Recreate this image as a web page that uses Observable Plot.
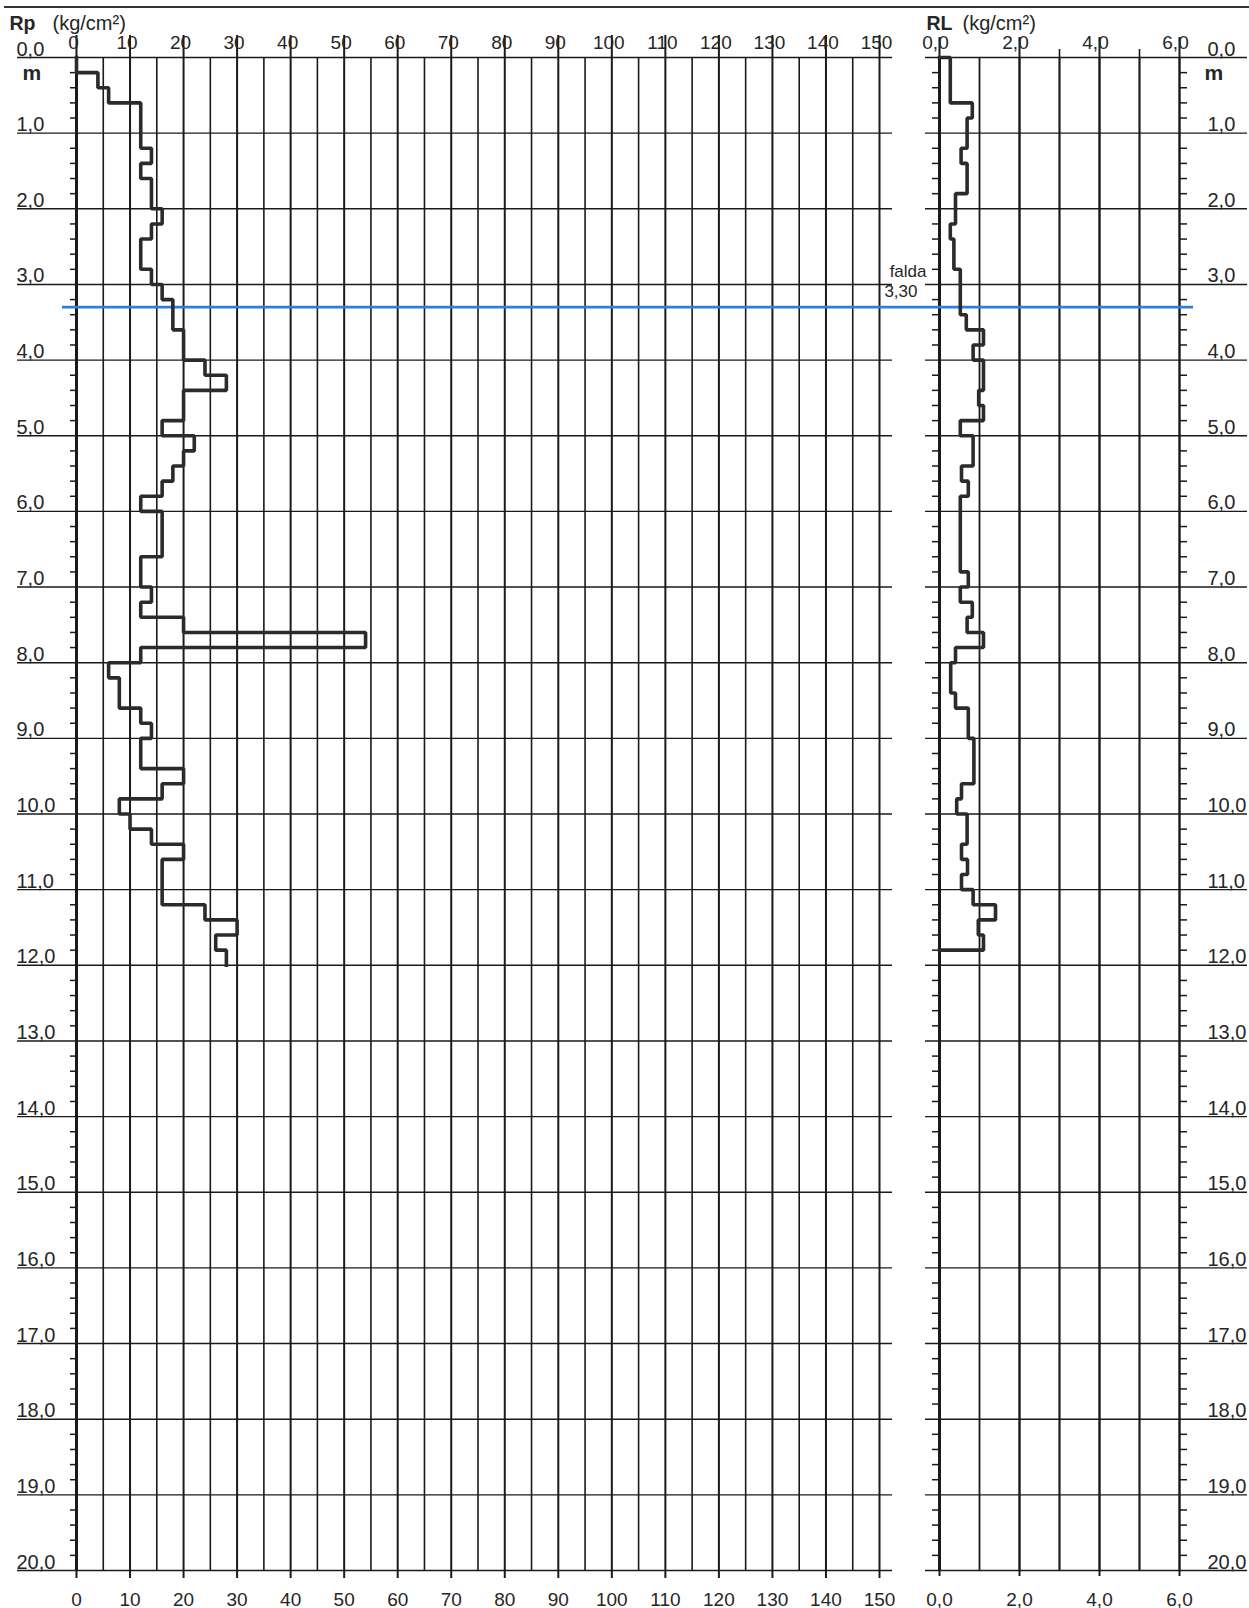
<!DOCTYPE html>
<html>
<head>
<meta charset="utf-8">
<script src="https://cdn.jsdelivr.net/npm/d3@7"></script>
<script src="https://cdn.jsdelivr.net/npm/@observablehq/plot@0.6"></script>
<style>
  html, body { margin: 0; padding: 0; background: #fff; }
  #wrap { position: relative; width: 1249px; height: 1608px; overflow: hidden; font-family: "Liberation Sans", Arial, sans-serif; }
  .panel { position: absolute; top: 0; }
  .panel svg { overflow: visible !important; background: transparent !important; }
  #topline { position: absolute; top: 6px; left: 4px; right: 0; height: 0; border-top: 2px solid #333; }
</style>
</head>
<body>
<div id="wrap">
  <div id="topline"></div>
  <div class="panel" id="left" style="left:0px"></div>
  <div class="panel" id="right" style="left:905px"></div>
</div>
<script>
// ---- data ----
// depth (m) of the top of each 0.2 m reading interval
const rpTops = [0.0,0.2,0.4,0.6,0.8,1.0,1.2,1.4,1.6,1.8,2.0,2.2,2.4,2.6,2.8,3.0,3.2,3.4,3.6,3.8,
                4.0,4.2,4.4,4.6,4.8,5.0,5.2,5.4,5.6,5.8,6.0,6.2,6.4,6.6,6.8,7.0,7.2,7.4,7.6,7.8,
                8.0,8.2,8.4,8.6,8.8,9.0,9.2,9.4,9.6,9.8,10.0,10.2,10.4,10.6,10.8,11.0,11.2,11.4,11.6,11.8];
// Rp (kg/cm²) per interval
const rpValues = [0,4,6,12,12,12,14,12,14,14,16,14,12,12,14,16,18,18,20,20,
                  24,28,20,20,16,22,20,18,16,12,16,16,16,12,12,14,12,20,54,12,
                  6,8,8,12,14,12,12,20,16,8,10,14,20,16,16,16,24,30,26,28];
const rlTops = [0.0,0.2,0.4,0.6,0.8,1.0,1.2,1.4,1.6,1.8,2.0,2.2,2.4,2.6,2.8,3.0,3.2,3.4,3.6,3.8,
                4.0,4.2,4.4,4.6,4.8,5.0,5.2,5.4,5.6,5.8,6.0,6.2,6.4,6.6,6.8,7.0,7.2,7.4,7.6,7.8,
                8.0,8.2,8.4,8.6,8.8,9.0,9.2,9.4,9.6,9.8,10.0,10.2,10.4,10.6,10.8,11.0,11.2,11.4,11.6];
// RL (kg/cm²) per interval
const rlValues = [0.27,0.27,0.27,0.82,0.69,0.69,0.54,0.69,0.69,0.40,0.40,0.27,0.36,0.36,0.52,0.52,0.52,0.67,1.10,0.84,
                  1.10,1.10,0.98,1.10,0.52,0.84,0.84,0.55,0.72,0.52,0.52,0.52,0.52,0.52,0.72,0.52,0.82,0.69,1.10,0.40,
                  0.28,0.28,0.40,0.72,0.72,0.86,0.86,0.86,0.55,0.43,0.69,0.69,0.55,0.70,0.55,0.84,1.40,0.97,1.10];
const step = 0.2;
const waterDepth = 3.30;
const depthTicks = [0,1,2,3,4,5,6,7,8,9,10,11,12,13,14,15,16,17,18,19,20];
const rpTicks = [0,10,20,30,40,50,60,70,80,90,100,110,120,130,140,150];
const rpGrid = [5,15,25,35,45,55,65,75,85,95,105,115,125,135,145];
const rlTicks = [0,2,4,6];
const rlGrid = [0,1,2,3,4,5,6];
const rlMinorTop = [3,5];

// ---- helpers ----
const fmt = d => d.toFixed(1).replace(".", ",");
const fmt2 = d => d.toFixed(2).replace(".", ",");
const minorDepth = d3.range(0, 20.001, step).map(d => +d.toFixed(1)).filter(d => Math.abs(d - Math.round(d)) > 1e-6);
function stepPoints(tops, vals, startAxis, endAxis) {
  const pts = [];
  if (startAxis) pts.push({v: 0, d: tops[0]});
  tops.forEach((t, i) => { pts.push({v: vals[i], d: t}); pts.push({v: vals[i], d: +(t + step).toFixed(1)}); });
  if (endAxis) pts.push({v: 0, d: pts[pts.length - 1].d});
  return pts;
}
const rpPts = stepPoints(rpTops, rpValues, false, false);
const rlPts = stepPoints(rlTops, rlValues, true, true);

const INK = "#1a1a1a";
const TXT = "#262626";
const PROF = "#2b2b2b";
const BLUE = "#2f7fd6";
const style = {fontFamily: "'Liberation Sans', Arial, sans-serif", fontSize: "20px", background: "transparent", overflow: "visible", color: TXT};

// ---- left panel : Rp ----
const left = Plot.plot({
  width: 905, height: 1608,
  marginLeft: 76, marginRight: 26, marginTop: 57, marginBottom: 38,
  style,
  x: {domain: [0, 150], axis: null},
  y: {domain: [0, 20], reverse: true, axis: null},
  marks: [
    Plot.ruleY(depthTicks, {y: d => d, insetLeft: -59, insetRight: -13, stroke: INK, strokeWidth: 1.4}),
    Plot.ruleX(rpGrid, {x: d => d, stroke: INK, strokeWidth: 1.6}),
    Plot.ruleX(rpTicks, {x: d => d, insetTop: -22, insetBottom: -8, stroke: INK, strokeWidth: 2}),
    Plot.ruleX([0], {x: d => d, stroke: INK, strokeWidth: 3}),
    Plot.ruleY(minorDepth, {y: d => d, x1: () => 0, x2: () => 0, insetLeft: -6, stroke: INK, strokeWidth: 1.5}),
    Plot.ruleY([waterDepth], {y: d => d, insetLeft: -14, insetRight: -26, stroke: BLUE, strokeWidth: 2.6}),
    Plot.line(rpPts, {x: "v", y: "d", stroke: PROF, strokeWidth: 3.6, strokeLinejoin: "miter", strokeLinecap: "square"}),
    Plot.text(depthTicks, {y: d => d, text: fmt, frameAnchor: "left", textAnchor: "start", lineAnchor: "bottom", dx: -60, dy: -2, fontSize: 20, fill: TXT}),
    Plot.text(rpTicks, {x: d => d, text: d => String(d), frameAnchor: "top", lineAnchor: "bottom", dx: -3, dy: -9, fontSize: 19, fill: TXT}),
    Plot.text(rpTicks, {x: d => d, text: d => String(d), frameAnchor: "bottom", lineAnchor: "bottom", dy: 35, fontSize: 19, fill: TXT}),
    Plot.text(["m"], {frameAnchor: "top-left", textAnchor: "start", lineAnchor: "bottom", dx: -54, dy: 22, fontSize: 21, fontWeight: "bold", fill: TXT}),
    Plot.text(["Rp"], {frameAnchor: "top-left", textAnchor: "start", lineAnchor: "bottom", dx: -67, dy: -28, fontSize: 19.5, fontWeight: "bold", fill: TXT}),
    Plot.text(["(kg/cm²)"], {frameAnchor: "top-left", textAnchor: "start", lineAnchor: "bottom", dx: -24, dy: -28, fontSize: 20, fill: TXT})
  ]
});
document.getElementById("left").appendChild(left);

// ---- right panel : RL ----
const right = Plot.plot({
  width: 344, height: 1608,
  marginLeft: 34, marginRight: 70, marginTop: 57, marginBottom: 38,
  style,
  x: {domain: [0, 6], axis: null},
  y: {domain: [0, 20], reverse: true, axis: null},
  marks: [
    Plot.ruleY(depthTicks, {y: d => d, insetLeft: -14, insetRight: -68, stroke: INK, strokeWidth: 1.4}),
    Plot.ruleX(rlGrid, {x: d => d, stroke: INK, strokeWidth: 1.8}),
    Plot.ruleX(rlTicks, {x: d => d, insetTop: -20, insetBottom: -6, stroke: INK, strokeWidth: 2}),
    Plot.ruleX(rlMinorTop, {x: d => d, insetTop: -8, stroke: INK, strokeWidth: 1.6}),
    Plot.ruleX([0], {x: d => d, stroke: INK, strokeWidth: 3}),
    Plot.ruleY(minorDepth, {y: d => d, x1: () => 0, x2: () => 0, insetLeft: -7, stroke: INK, strokeWidth: 1.5}),
    Plot.ruleY(minorDepth, {y: d => d, x1: () => 6, x2: () => 6, insetRight: -8, stroke: INK, strokeWidth: 1.5}),
    Plot.ruleY([waterDepth], {y: d => d, insetLeft: -34, insetRight: -14, stroke: BLUE, strokeWidth: 2.6}),
    Plot.line(rlPts, {x: "v", y: "d", stroke: PROF, strokeWidth: 3.6, strokeLinejoin: "miter", strokeLinecap: "square"}),
    Plot.text(depthTicks, {y: d => d, text: fmt, frameAnchor: "right", textAnchor: "start", lineAnchor: "bottom", dx: 28, dy: -2, fontSize: 20, fill: TXT}),
    Plot.text(rlTicks, {x: d => d, text: fmt, frameAnchor: "top", lineAnchor: "bottom", dx: -4, dy: -9, fontSize: 19, fill: TXT}),
    Plot.text(rlTicks, {x: d => d, text: fmt, frameAnchor: "bottom", lineAnchor: "bottom", dy: 35, fontSize: 19, fill: TXT}),
    Plot.text(["m"], {frameAnchor: "top-right", textAnchor: "start", lineAnchor: "bottom", dx: 25, dy: 22, fontSize: 21, fontWeight: "bold", fill: TXT}),
    Plot.text(["RL"], {frameAnchor: "top-left", textAnchor: "start", lineAnchor: "bottom", dx: -13, dy: -28, fontSize: 19.5, fontWeight: "bold", fill: TXT}),
    Plot.text(["(kg/cm²)"], {frameAnchor: "top-left", textAnchor: "start", lineAnchor: "bottom", dx: 23, dy: -28, fontSize: 20, fill: TXT}),
    Plot.text([waterDepth], {y: d => d, text: () => "falda", frameAnchor: "left", textAnchor: "end", lineAnchor: "bottom", dx: -13, dy: -30, fontSize: 17, fill: TXT}),
    Plot.text([waterDepth], {y: d => d, text: fmt2, frameAnchor: "left", textAnchor: "end", lineAnchor: "bottom", dx: -22, dy: -10, fontSize: 17, fill: TXT})
  ]
});
document.getElementById("right").appendChild(right);
</script>
</body>
</html>
